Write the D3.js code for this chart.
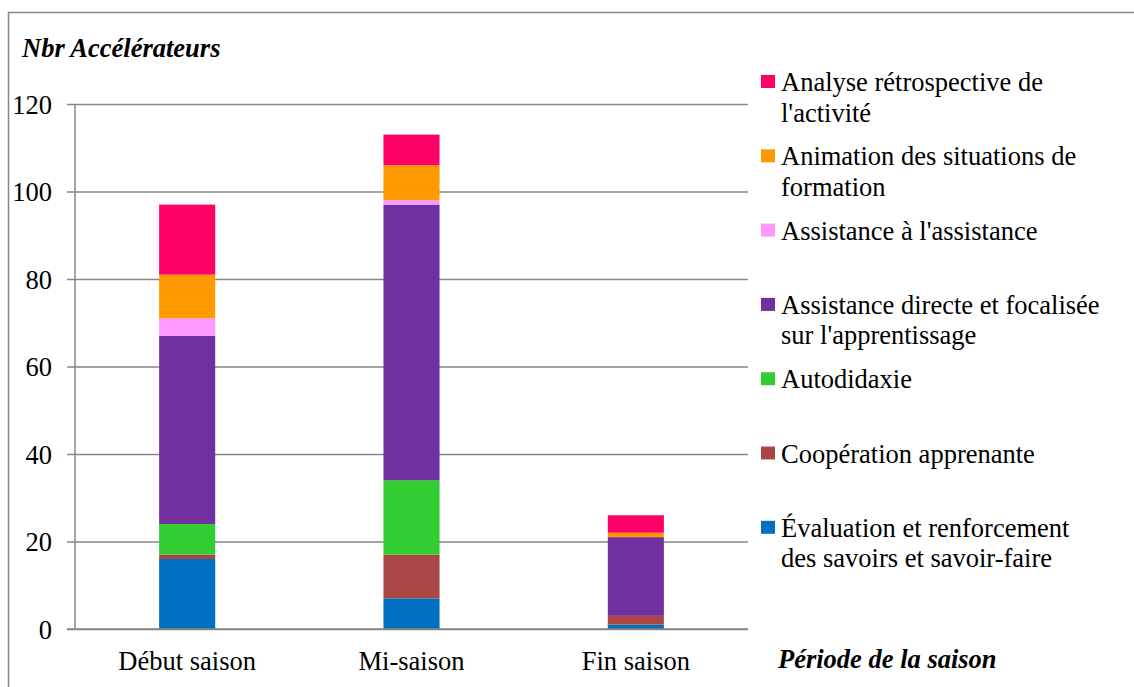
<!DOCTYPE html>
<html>
<head>
<meta charset="utf-8">
<script src="https://cdn.jsdelivr.net/npm/d3@7/dist/d3.min.js"></script>
<style>
  html, body { margin: 0; padding: 0; background: #ffffff; }
</style>
</head>
<body>
<svg id="chart" width="1134" height="687"></svg>
<script>
// Periods of the season (x categories)
const periods = ["Début saison", "Mi-saison", "Fin saison"];

// Accelerator types, stacked from the bottom up
const seriesNames = [
  "Évaluation et renforcement des savoirs et savoir-faire",
  "Coopération apprenante",
  "Autodidaxie",
  "Assistance directe et focalisée sur l'apprentissage",
  "Assistance à l'assistance",
  "Animation des situations de formation",
  "Analyse rétrospective de l'activité"
];

// Counts per period, one array per accelerator type (same order as seriesNames)
const evaluation    = [16, 7, 1];
const cooperation   = [1, 10, 2];
const autodidaxie   = [7, 17, 0];
const assistDirecte = [43, 63, 18];
const assistAssist  = [4, 1, 0];
const animation     = [10, 8, 1];
const analyse       = [16, 7, 4];

const seriesColors = ["#0070C0", "#AA4643", "#33CC33", "#7030A0", "#FF99FF", "#FF9900", "#FF0066"];

const yTicks = [0, 20, 40, 60, 80, 100, 120];
const yTitle = "Nbr Accélérateurs";
const xTitle = "Période de la saison";

const seriesValues = [evaluation, cooperation, autodidaxie, assistDirecte, assistAssist, animation, analyse];

// Table for d3.stack: one row per period
const table = periods.map((p, i) => {
  const row = { period: p };
  seriesNames.forEach((s, k) => { row[s] = seriesValues[k][i]; });
  return row;
});

const svg = d3.select("#chart");
const gray = "#868686";
const fontFamily = "Liberation Serif";
const fontSize = 26.5;

// Outer chart frame
svg.append("rect")
  .attr("x", 8.5).attr("y", 12.5)
  .attr("width", 1300).attr("height", 1000)
  .attr("fill", "none").attr("stroke", gray).attr("stroke-width", 1.5);

const plot = { left: 75, right: 748, top: 104, bottom: 629 };

const x = d3.scaleBand()
  .domain(periods)
  .range([plot.left, plot.right])
  .paddingInner(0.75)
  .paddingOuter(0.375);

const y = d3.scaleLinear()
  .domain([0, 120])
  .range([plot.bottom, plot.top]);

// Horizontal gridlines with tick labels
const yAxis = d3.axisLeft(y)
  .tickValues(yTicks)
  .tickSize(-(plot.right - plot.left + 8))
  .tickPadding(0)
  .tickFormat(d3.format("d"));

const gy = svg.append("g")
  .attr("transform", `translate(${plot.left - 8},0)`)
  .call(yAxis)
  .attr("font-family", fontFamily)
  .attr("font-size", fontSize);
gy.select(".domain").remove();
gy.selectAll(".tick line").attr("stroke", gray).attr("stroke-width", 1.5);
gy.selectAll(".tick text")
  .attr("x", -15)
  .attr("dy", "0.35em")
  .attr("fill", "#000");

// Vertical axis line
svg.append("line")
  .attr("x1", plot.left).attr("x2", plot.left)
  .attr("y1", y(120)).attr("y2", y(0))
  .attr("stroke", gray).attr("stroke-width", 1.5);

// Stacked bars
const stack = d3.stack().keys(seriesNames);
const layers = stack(table);

svg.append("g")
  .selectAll("g")
  .data(layers)
  .join("g")
  .attr("fill", (d, i) => seriesColors[i])
  .selectAll("rect")
  .data(d => d)
  .join("rect")
  .attr("x", d => x(d.data.period))
  .attr("width", x.bandwidth())
  .attr("y", d => y(d[1]))
  .attr("height", d => y(d[0]) - y(d[1]));

// Baseline drawn over the bars
svg.append("line")
  .attr("x1", plot.left - 8).attr("x2", plot.right)
  .attr("y1", y(0)).attr("y2", y(0))
  .attr("stroke", gray).attr("stroke-width", 1.5);

// Category labels
const xAxis = d3.axisBottom(x).tickSize(0).tickPadding(0);
const gx = svg.append("g")
  .attr("transform", `translate(0,${plot.bottom})`)
  .call(xAxis)
  .attr("font-family", fontFamily)
  .attr("font-size", fontSize);
gx.select(".domain").remove();
gx.selectAll(".tick text")
  .attr("y", 41)
  .attr("dy", 0)
  .attr("fill", "#000");

// Axis titles
svg.append("text")
  .attr("x", 22).attr("y", 57)
  .attr("font-family", fontFamily)
  .attr("font-size", fontSize)
  .attr("font-weight", "bold")
  .attr("font-style", "italic")
  .text(yTitle);

svg.append("text")
  .attr("x", 778).attr("y", 668)
  .attr("font-family", fontFamily)
  .attr("font-size", fontSize)
  .attr("font-weight", "bold")
  .attr("font-style", "italic")
  .text(xTitle);

// Legend, top entry is the top of the stack
const legendOrder = d3.range(seriesNames.length).reverse();
const legend = svg.append("g")
  .attr("font-family", fontFamily)
  .attr("font-size", fontSize);
const maxTextWidth = 324;

legendOrder.forEach((k, i) => {
  const cy = 82 + i * 74.3;
  const g = legend.append("g");
  g.append("rect")
    .attr("x", 761).attr("y", cy - 7)
    .attr("width", 14).attr("height", 13)
    .attr("fill", seriesColors[k]);

  const t = g.append("text")
    .attr("x", 781)
    .attr("fill", "#000");

  // Word wrap to the legend width
  const words = seriesNames[k].split(" ");
  let line = [];
  let lineNo = 0;
  let tspan = t.append("tspan").attr("x", 781).attr("y", cy + 9);
  words.forEach(w => {
    line.push(w);
    tspan.text(line.join(" "));
    if (tspan.node().getComputedTextLength() > maxTextWidth && line.length > 1) {
      line.pop();
      tspan.text(line.join(" "));
      line = [w];
      lineNo += 1;
      tspan = t.append("tspan").attr("x", 781).attr("y", cy + 9 + lineNo * 30.5).text(w);
    }
  });
});
</script>
</body>
</html>
